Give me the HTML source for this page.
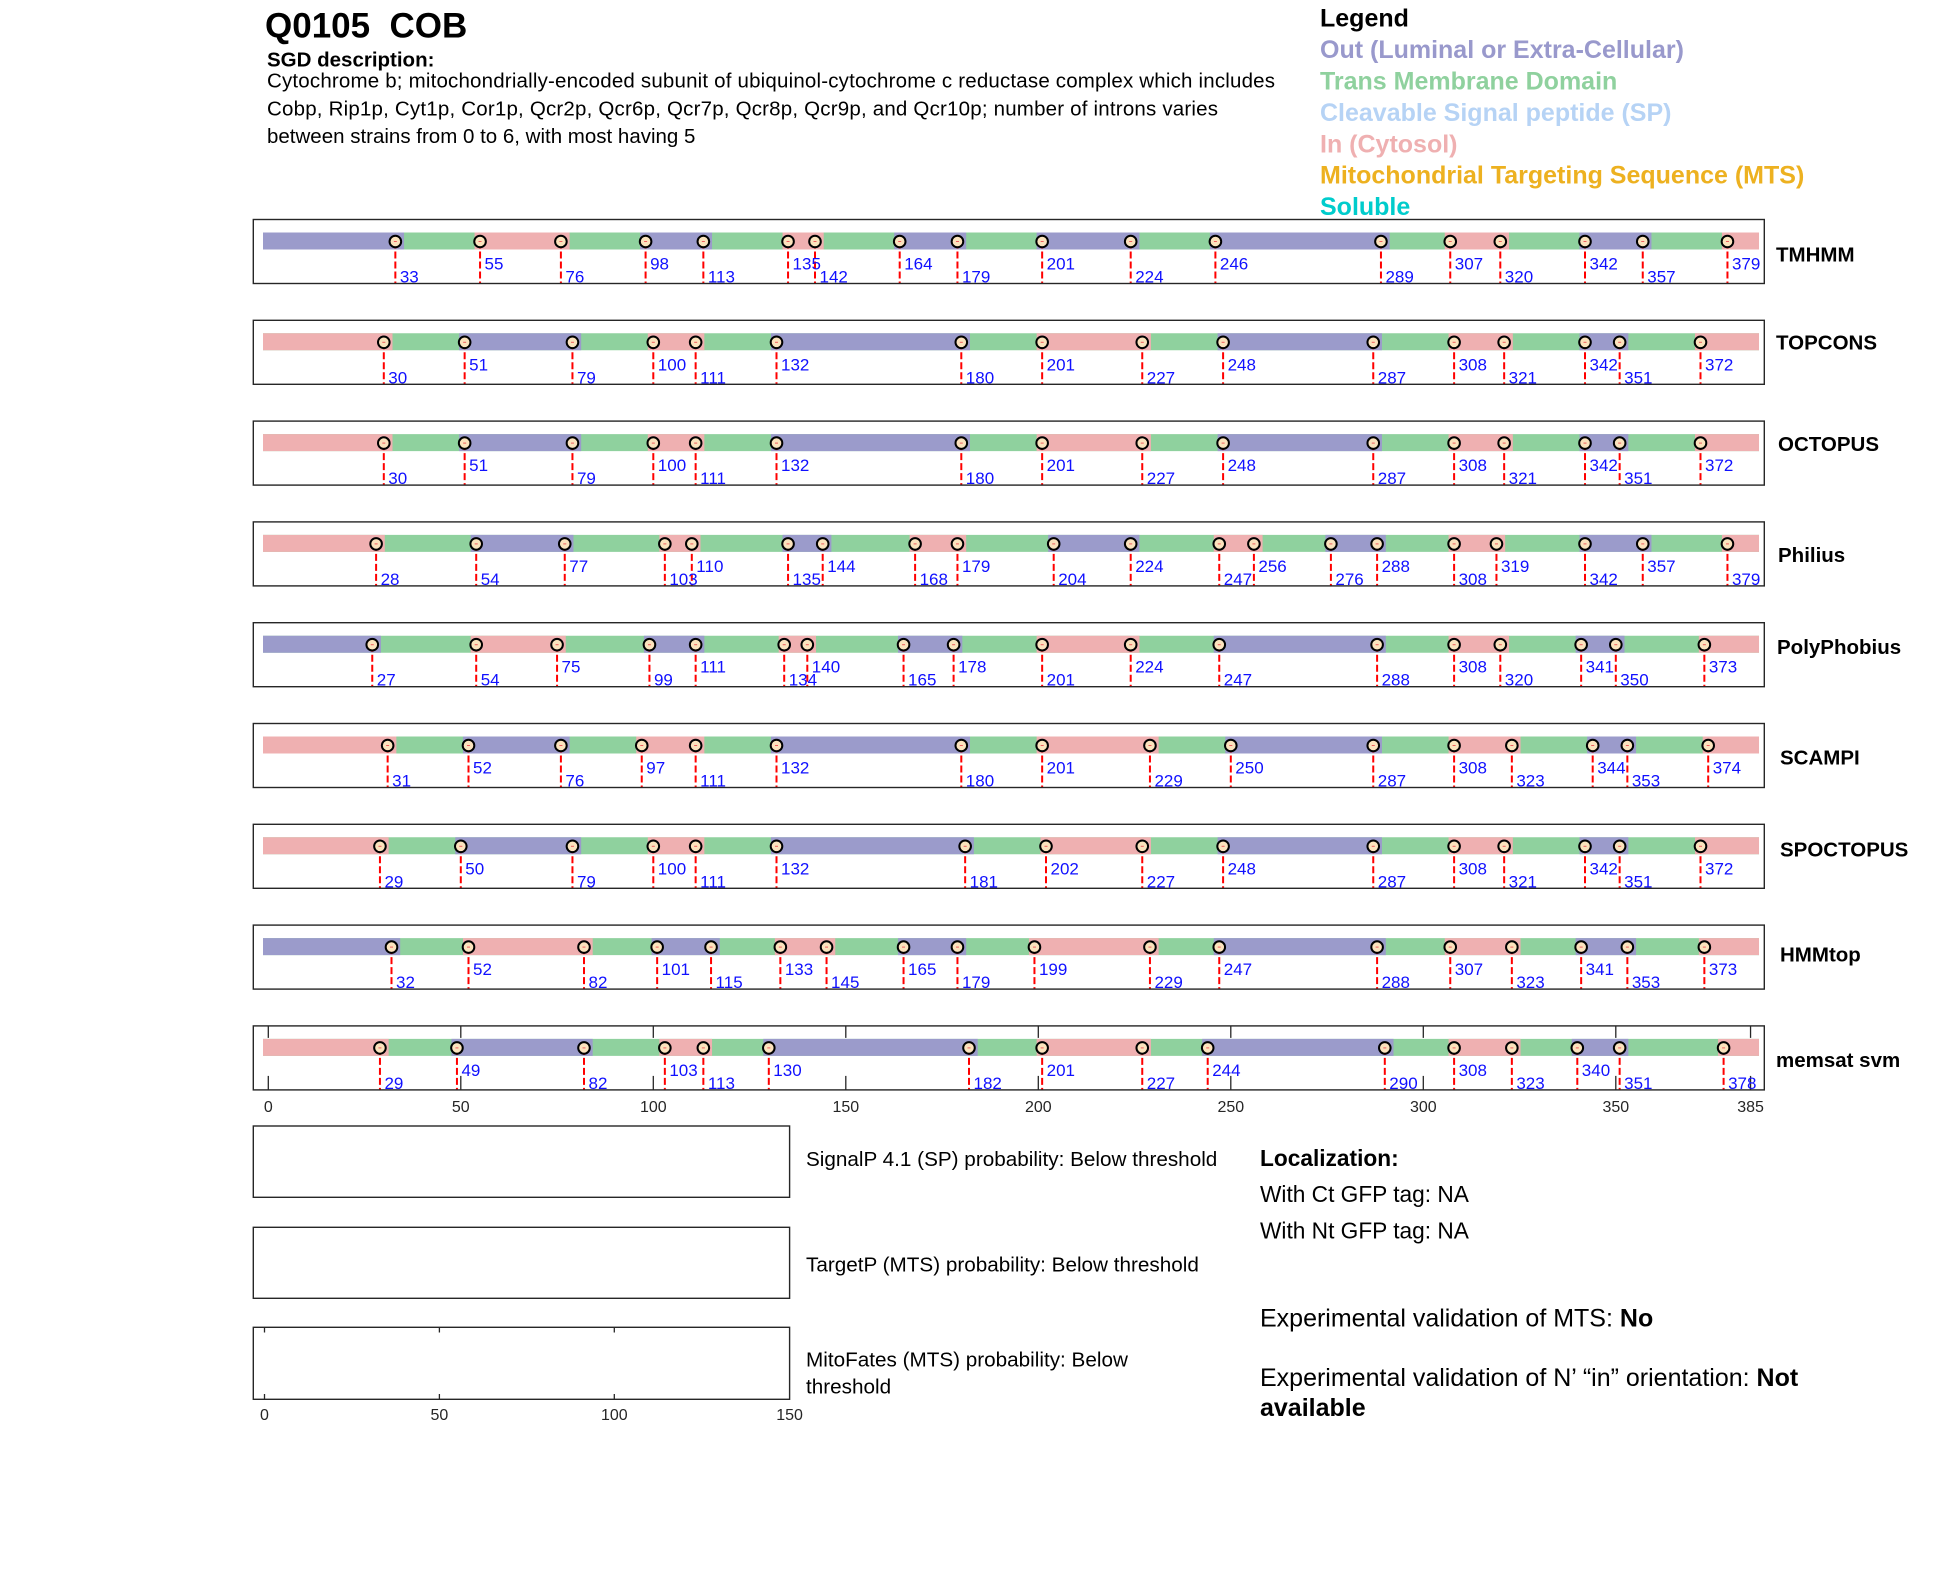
<!DOCTYPE html>
<html>
<head>
<meta charset="utf-8">
<style>
html,body{margin:0;padding:0;background:#fff;}
svg{display:block;}
text{font-family:"Liberation Sans",Arial,Helvetica,sans-serif;}
.n{font-size:17px;fill:#1010ff;}
.nm{font-size:20.5px;font-weight:bold;fill:#000;}
.tk{font-size:16px;fill:#262626;}
.pan{fill:none;stroke:#262626;stroke-width:1.4;}
.bg{stroke:#8fd19e;stroke-width:17;}
.P{stroke:#9b9bcb;stroke-width:17;}
.K{stroke:#efb0b1;stroke-width:17;}
.tick{stroke:#262626;stroke-width:1.3;}
</style>
</head>
<body>
<svg width="1950" height="1573" viewBox="0 0 1950 1573" xmlns="http://www.w3.org/2000/svg">
<defs>
<g id="mk">
<line x1="0" y1="22" x2="0" y2="64" stroke="#ff0000" stroke-width="2" stroke-dasharray="7 3"/>
<circle cx="0" cy="22" r="5.8" fill="#fbe3bd" stroke="#000" stroke-width="2"/>
<rect x="-1.5" y="21.5" width="3" height="1" fill="#f06060"/>
</g>
</defs>
<rect x="0" y="0" width="1950" height="1573" fill="#fff"/>

<!-- Header -->
<text x="265" y="37.7" style="font-size:35px;font-weight:bold;white-space:pre" xml:space="preserve">Q0105  COB</text>
<text x="267" y="66.5" style="font-size:20.5px;font-weight:bold">SGD description:</text>
<text x="267" y="87.5" style="font-size:20.5px" textLength="1008" lengthAdjust="spacing">Cytochrome b; mitochondrially-encoded subunit of ubiquinol-cytochrome c reductase complex which includes</text>
<text x="267" y="115.5" style="font-size:20.5px" textLength="951" lengthAdjust="spacing">Cobp, Rip1p, Cyt1p, Cor1p, Qcr2p, Qcr6p, Qcr7p, Qcr8p, Qcr9p, and Qcr10p; number of introns varies</text>
<text x="267" y="143" style="font-size:20.5px">between strains from 0 to 6, with most having 5</text>

<!-- Legend -->
<g style="font-size:25px;font-weight:bold">
<text x="1320" y="26.7" fill="#000">Legend</text>
<text x="1320" y="58.1" fill="#9999cc">Out (Luminal or Extra-Cellular)</text>
<text x="1320" y="89.5" fill="#8fd19e">Trans Membrane Domain</text>
<text x="1320" y="120.9" fill="#b6d3f5">Cleavable Signal peptide (SP)</text>
<text x="1320" y="152.3" fill="#efb0b1">In (Cytosol)</text>
<text x="1320" y="183.7" fill="#edb120">Mitochondrial Targeting Sequence (MTS)</text>
<text x="1320" y="215" fill="#00cccc">Soluble</text>
</g>

<!-- Track 1 TMHMM -->
<g transform="translate(0,219.5)">
<line class="bg" x1="263" y1="21.5" x2="1759" y2="21.5"/>
<line class="P" x1="263" y1="21.5" x2="404.05" y2="21.5"/>
<line class="K" x1="474.55" y1="21.5" x2="569.6" y2="21.5"/>
<line class="P" x1="640.1" y1="21.5" x2="712.05" y2="21.5"/>
<line class="K" x1="782.55" y1="21.5" x2="823.7" y2="21.5"/>
<line class="P" x1="894.2" y1="21.5" x2="966.15" y2="21.5"/>
<line class="P" x1="1036.65" y1="21.5" x2="1139.4" y2="21.5"/>
<line class="P" x1="1209.9" y1="21.5" x2="1389.65" y2="21.5"/>
<line class="K" x1="1444.75" y1="21.5" x2="1509" y2="21.5"/>
<line class="P" x1="1579.5" y1="21.5" x2="1651.45" y2="21.5"/>
<line class="K" x1="1721.95" y1="21.5" x2="1759" y2="21.5"/>
<use href="#mk" x="395.35"/><use href="#mk" x="480.05"/><use href="#mk" x="560.9"/><use href="#mk" x="645.6"/><use href="#mk" x="703.35"/><use href="#mk" x="788.05"/><use href="#mk" x="815"/><use href="#mk" x="899.7"/><use href="#mk" x="957.45"/><use href="#mk" x="1042.15"/><use href="#mk" x="1130.7"/><use href="#mk" x="1215.4"/><use href="#mk" x="1380.95"/><use href="#mk" x="1450.25"/><use href="#mk" x="1500.3"/><use href="#mk" x="1585"/><use href="#mk" x="1642.75"/><use href="#mk" x="1727.45"/>
<text class="n" x="399.85" y="63">33</text><text class="n" x="484.55" y="50">55</text><text class="n" x="565.4" y="63">76</text><text class="n" x="650.1" y="50">98</text><text class="n" x="707.85" y="63">113</text><text class="n" x="792.55" y="50">135</text><text class="n" x="819.5" y="63">142</text><text class="n" x="904.2" y="50">164</text><text class="n" x="961.95" y="63">179</text><text class="n" x="1046.65" y="50">201</text><text class="n" x="1135.2" y="63">224</text><text class="n" x="1219.9" y="50">246</text><text class="n" x="1385.45" y="63">289</text><text class="n" x="1454.75" y="50">307</text><text class="n" x="1504.8" y="63">320</text><text class="n" x="1589.5" y="50">342</text><text class="n" x="1647.25" y="63">357</text><text class="n" x="1731.95" y="50">379</text>
<rect class="pan" x="253.3" y="0" width="1511" height="64"/>
<text class="nm" x="1776" y="42.2">TMHMM</text>
</g>

<!-- Track 2 TOPCONS -->
<g transform="translate(0,320.3)">
<line class="bg" x1="263" y1="21.5" x2="1759" y2="21.5"/>
<line class="K" x1="263" y1="21.5" x2="392.5" y2="21.5"/>
<line class="P" x1="459.15" y1="21.5" x2="581.15" y2="21.5"/>
<line class="K" x1="647.8" y1="21.5" x2="704.35" y2="21.5"/>
<line class="P" x1="771" y1="21.5" x2="970" y2="21.5"/>
<line class="K" x1="1036.65" y1="21.5" x2="1150.95" y2="21.5"/>
<line class="P" x1="1217.6" y1="21.5" x2="1381.95" y2="21.5"/>
<line class="K" x1="1448.6" y1="21.5" x2="1512.85" y2="21.5"/>
<line class="P" x1="1579.5" y1="21.5" x2="1628.35" y2="21.5"/>
<line class="K" x1="1695" y1="21.5" x2="1759" y2="21.5"/>
<use href="#mk" x="383.8"/><use href="#mk" x="464.65"/><use href="#mk" x="572.45"/><use href="#mk" x="653.3"/><use href="#mk" x="695.65"/><use href="#mk" x="776.5"/><use href="#mk" x="961.3"/><use href="#mk" x="1042.15"/><use href="#mk" x="1142.25"/><use href="#mk" x="1223.1"/><use href="#mk" x="1373.25"/><use href="#mk" x="1454.1"/><use href="#mk" x="1504.15"/><use href="#mk" x="1585"/><use href="#mk" x="1619.65"/><use href="#mk" x="1700.5"/>
<text class="n" x="388.3" y="63">30</text><text class="n" x="469.15" y="50">51</text><text class="n" x="576.95" y="63">79</text><text class="n" x="657.8" y="50">100</text><text class="n" x="700.15" y="63">111</text><text class="n" x="781" y="50">132</text><text class="n" x="965.8" y="63">180</text><text class="n" x="1046.65" y="50">201</text><text class="n" x="1146.75" y="63">227</text><text class="n" x="1227.6" y="50">248</text><text class="n" x="1377.75" y="63">287</text><text class="n" x="1458.6" y="50">308</text><text class="n" x="1508.65" y="63">321</text><text class="n" x="1589.5" y="50">342</text><text class="n" x="1624.15" y="63">351</text><text class="n" x="1705" y="50">372</text>
<rect class="pan" x="253.3" y="0" width="1511" height="64"/>
<text class="nm" x="1776" y="29.2">TOPCONS</text>
</g>

<!-- Track 3 OCTOPUS -->
<g transform="translate(0,421.1)">
<line class="bg" x1="263" y1="21.5" x2="1759" y2="21.5"/>
<line class="K" x1="263" y1="21.5" x2="392.5" y2="21.5"/>
<line class="P" x1="459.15" y1="21.5" x2="581.15" y2="21.5"/>
<line class="K" x1="647.8" y1="21.5" x2="704.35" y2="21.5"/>
<line class="P" x1="771" y1="21.5" x2="970" y2="21.5"/>
<line class="K" x1="1036.65" y1="21.5" x2="1150.95" y2="21.5"/>
<line class="P" x1="1217.6" y1="21.5" x2="1381.95" y2="21.5"/>
<line class="K" x1="1448.6" y1="21.5" x2="1512.85" y2="21.5"/>
<line class="P" x1="1579.5" y1="21.5" x2="1628.35" y2="21.5"/>
<line class="K" x1="1695" y1="21.5" x2="1759" y2="21.5"/>
<use href="#mk" x="383.8"/><use href="#mk" x="464.65"/><use href="#mk" x="572.45"/><use href="#mk" x="653.3"/><use href="#mk" x="695.65"/><use href="#mk" x="776.5"/><use href="#mk" x="961.3"/><use href="#mk" x="1042.15"/><use href="#mk" x="1142.25"/><use href="#mk" x="1223.1"/><use href="#mk" x="1373.25"/><use href="#mk" x="1454.1"/><use href="#mk" x="1504.15"/><use href="#mk" x="1585"/><use href="#mk" x="1619.65"/><use href="#mk" x="1700.5"/>
<text class="n" x="388.3" y="63">30</text><text class="n" x="469.15" y="50">51</text><text class="n" x="576.95" y="63">79</text><text class="n" x="657.8" y="50">100</text><text class="n" x="700.15" y="63">111</text><text class="n" x="781" y="50">132</text><text class="n" x="965.8" y="63">180</text><text class="n" x="1046.65" y="50">201</text><text class="n" x="1146.75" y="63">227</text><text class="n" x="1227.6" y="50">248</text><text class="n" x="1377.75" y="63">287</text><text class="n" x="1458.6" y="50">308</text><text class="n" x="1508.65" y="63">321</text><text class="n" x="1589.5" y="50">342</text><text class="n" x="1624.15" y="63">351</text><text class="n" x="1705" y="50">372</text>
<rect class="pan" x="253.3" y="0" width="1511" height="64"/>
<text class="nm" x="1778" y="29.9">OCTOPUS</text>
</g>

<!-- Track 4 Philius -->
<g transform="translate(0,521.9)">
<line class="bg" x1="263" y1="21.5" x2="1759" y2="21.5"/>
<line class="K" x1="263" y1="21.5" x2="384.8" y2="21.5"/>
<line class="P" x1="470.7" y1="21.5" x2="573.45" y2="21.5"/>
<line class="K" x1="659.35" y1="21.5" x2="700.5" y2="21.5"/>
<line class="P" x1="782.55" y1="21.5" x2="831.4" y2="21.5"/>
<line class="K" x1="909.6" y1="21.5" x2="966.15" y2="21.5"/>
<line class="P" x1="1048.2" y1="21.5" x2="1139.4" y2="21.5"/>
<line class="K" x1="1213.75" y1="21.5" x2="1262.6" y2="21.5"/>
<line class="P" x1="1325.4" y1="21.5" x2="1385.8" y2="21.5"/>
<line class="K" x1="1448.6" y1="21.5" x2="1505.15" y2="21.5"/>
<line class="P" x1="1579.5" y1="21.5" x2="1651.45" y2="21.5"/>
<line class="K" x1="1721.95" y1="21.5" x2="1759" y2="21.5"/>
<use href="#mk" x="376.1"/><use href="#mk" x="476.2"/><use href="#mk" x="564.75"/><use href="#mk" x="664.85"/><use href="#mk" x="691.8"/><use href="#mk" x="788.05"/><use href="#mk" x="822.7"/><use href="#mk" x="915.1"/><use href="#mk" x="957.45"/><use href="#mk" x="1053.7"/><use href="#mk" x="1130.7"/><use href="#mk" x="1219.25"/><use href="#mk" x="1253.9"/><use href="#mk" x="1330.9"/><use href="#mk" x="1377.1"/><use href="#mk" x="1454.1"/><use href="#mk" x="1496.45"/><use href="#mk" x="1585"/><use href="#mk" x="1642.75"/><use href="#mk" x="1727.45"/>
<text class="n" x="380.6" y="63">28</text><text class="n" x="480.7" y="63">54</text><text class="n" x="569.25" y="50">77</text><text class="n" x="669.35" y="63">103</text><text class="n" x="696.3" y="50">110</text><text class="n" x="792.55" y="63">135</text><text class="n" x="827.2" y="50">144</text><text class="n" x="919.6" y="63">168</text><text class="n" x="961.95" y="50">179</text><text class="n" x="1058.2" y="63">204</text><text class="n" x="1135.2" y="50">224</text><text class="n" x="1223.75" y="63">247</text><text class="n" x="1258.4" y="50">256</text><text class="n" x="1335.4" y="63">276</text><text class="n" x="1381.6" y="50">288</text><text class="n" x="1458.6" y="63">308</text><text class="n" x="1500.95" y="50">319</text><text class="n" x="1589.5" y="63">342</text><text class="n" x="1647.25" y="50">357</text><text class="n" x="1731.95" y="63">379</text>
<rect class="pan" x="253.3" y="0" width="1511" height="64"/>
<text class="nm" x="1778" y="40.3">Philius</text>
</g>

<!-- Track 5 PolyPhobius -->
<g transform="translate(0,622.7)">
<line class="bg" x1="263" y1="21.5" x2="1759" y2="21.5"/>
<line class="P" x1="263" y1="21.5" x2="380.95" y2="21.5"/>
<line class="K" x1="470.7" y1="21.5" x2="565.75" y2="21.5"/>
<line class="P" x1="643.95" y1="21.5" x2="704.35" y2="21.5"/>
<line class="K" x1="778.7" y1="21.5" x2="816" y2="21.5"/>
<line class="P" x1="898.05" y1="21.5" x2="962.3" y2="21.5"/>
<line class="K" x1="1036.65" y1="21.5" x2="1139.4" y2="21.5"/>
<line class="P" x1="1213.75" y1="21.5" x2="1385.8" y2="21.5"/>
<line class="K" x1="1448.6" y1="21.5" x2="1509" y2="21.5"/>
<line class="P" x1="1575.65" y1="21.5" x2="1624.5" y2="21.5"/>
<line class="K" x1="1698.85" y1="21.5" x2="1759" y2="21.5"/>
<use href="#mk" x="372.25"/><use href="#mk" x="476.2"/><use href="#mk" x="557.05"/><use href="#mk" x="649.45"/><use href="#mk" x="695.65"/><use href="#mk" x="784.2"/><use href="#mk" x="807.3"/><use href="#mk" x="903.55"/><use href="#mk" x="953.6"/><use href="#mk" x="1042.15"/><use href="#mk" x="1130.7"/><use href="#mk" x="1219.25"/><use href="#mk" x="1377.1"/><use href="#mk" x="1454.1"/><use href="#mk" x="1500.3"/><use href="#mk" x="1581.15"/><use href="#mk" x="1615.8"/><use href="#mk" x="1704.35"/>
<text class="n" x="376.75" y="63">27</text><text class="n" x="480.7" y="63">54</text><text class="n" x="561.55" y="50">75</text><text class="n" x="653.95" y="63">99</text><text class="n" x="700.15" y="50">111</text><text class="n" x="788.7" y="63">134</text><text class="n" x="811.8" y="50">140</text><text class="n" x="908.05" y="63">165</text><text class="n" x="958.1" y="50">178</text><text class="n" x="1046.65" y="63">201</text><text class="n" x="1135.2" y="50">224</text><text class="n" x="1223.75" y="63">247</text><text class="n" x="1381.6" y="63">288</text><text class="n" x="1458.6" y="50">308</text><text class="n" x="1504.8" y="63">320</text><text class="n" x="1585.65" y="50">341</text><text class="n" x="1620.3" y="63">350</text><text class="n" x="1708.85" y="50">373</text>
<rect class="pan" x="253.3" y="0" width="1511" height="64"/>
<text class="nm" x="1777" y="31.3">PolyPhobius</text>
</g>

<!-- Track 6 SCAMPI -->
<g transform="translate(0,723.5)">
<line class="bg" x1="263" y1="21.5" x2="1759" y2="21.5"/>
<line class="K" x1="263" y1="21.5" x2="396.35" y2="21.5"/>
<line class="P" x1="463" y1="21.5" x2="569.6" y2="21.5"/>
<line class="K" x1="636.25" y1="21.5" x2="704.35" y2="21.5"/>
<line class="P" x1="771" y1="21.5" x2="970" y2="21.5"/>
<line class="K" x1="1036.65" y1="21.5" x2="1158.65" y2="21.5"/>
<line class="P" x1="1225.3" y1="21.5" x2="1381.95" y2="21.5"/>
<line class="K" x1="1448.6" y1="21.5" x2="1520.55" y2="21.5"/>
<line class="P" x1="1587.2" y1="21.5" x2="1636.05" y2="21.5"/>
<line class="K" x1="1702.7" y1="21.5" x2="1759" y2="21.5"/>
<use href="#mk" x="387.65"/><use href="#mk" x="468.5"/><use href="#mk" x="560.9"/><use href="#mk" x="641.75"/><use href="#mk" x="695.65"/><use href="#mk" x="776.5"/><use href="#mk" x="961.3"/><use href="#mk" x="1042.15"/><use href="#mk" x="1149.95"/><use href="#mk" x="1230.8"/><use href="#mk" x="1373.25"/><use href="#mk" x="1454.1"/><use href="#mk" x="1511.85"/><use href="#mk" x="1592.7"/><use href="#mk" x="1627.35"/><use href="#mk" x="1708.2"/>
<text class="n" x="392.15" y="63">31</text><text class="n" x="473" y="50">52</text><text class="n" x="565.4" y="63">76</text><text class="n" x="646.25" y="50">97</text><text class="n" x="700.15" y="63">111</text><text class="n" x="781" y="50">132</text><text class="n" x="965.8" y="63">180</text><text class="n" x="1046.65" y="50">201</text><text class="n" x="1154.45" y="63">229</text><text class="n" x="1235.3" y="50">250</text><text class="n" x="1377.75" y="63">287</text><text class="n" x="1458.6" y="50">308</text><text class="n" x="1516.35" y="63">323</text><text class="n" x="1597.2" y="50">344</text><text class="n" x="1631.85" y="63">353</text><text class="n" x="1712.7" y="50">374</text>
<rect class="pan" x="253.3" y="0" width="1511" height="64"/>
<text class="nm" x="1780" y="40.8">SCAMPI</text>
</g>

<!-- Track 7 SPOCTOPUS -->
<g transform="translate(0,824.3)">
<line class="bg" x1="263" y1="21.5" x2="1759" y2="21.5"/>
<line class="K" x1="263" y1="21.5" x2="388.65" y2="21.5"/>
<line class="P" x1="455.3" y1="21.5" x2="581.15" y2="21.5"/>
<line class="K" x1="647.8" y1="21.5" x2="704.35" y2="21.5"/>
<line class="P" x1="771" y1="21.5" x2="973.85" y2="21.5"/>
<line class="K" x1="1040.5" y1="21.5" x2="1150.95" y2="21.5"/>
<line class="P" x1="1217.6" y1="21.5" x2="1381.95" y2="21.5"/>
<line class="K" x1="1448.6" y1="21.5" x2="1512.85" y2="21.5"/>
<line class="P" x1="1579.5" y1="21.5" x2="1628.35" y2="21.5"/>
<line class="K" x1="1695" y1="21.5" x2="1759" y2="21.5"/>
<use href="#mk" x="379.95"/><use href="#mk" x="460.8"/><use href="#mk" x="572.45"/><use href="#mk" x="653.3"/><use href="#mk" x="695.65"/><use href="#mk" x="776.5"/><use href="#mk" x="965.15"/><use href="#mk" x="1046"/><use href="#mk" x="1142.25"/><use href="#mk" x="1223.1"/><use href="#mk" x="1373.25"/><use href="#mk" x="1454.1"/><use href="#mk" x="1504.15"/><use href="#mk" x="1585"/><use href="#mk" x="1619.65"/><use href="#mk" x="1700.5"/>
<text class="n" x="384.45" y="63">29</text><text class="n" x="465.3" y="50">50</text><text class="n" x="576.95" y="63">79</text><text class="n" x="657.8" y="50">100</text><text class="n" x="700.15" y="63">111</text><text class="n" x="781" y="50">132</text><text class="n" x="969.65" y="63">181</text><text class="n" x="1050.5" y="50">202</text><text class="n" x="1146.75" y="63">227</text><text class="n" x="1227.6" y="50">248</text><text class="n" x="1377.75" y="63">287</text><text class="n" x="1458.6" y="50">308</text><text class="n" x="1508.65" y="63">321</text><text class="n" x="1589.5" y="50">342</text><text class="n" x="1624.15" y="63">351</text><text class="n" x="1705" y="50">372</text>
<rect class="pan" x="253.3" y="0" width="1511" height="64"/>
<text class="nm" x="1780" y="32">SPOCTOPUS</text>
</g>

<!-- Track 8 HMMtop -->
<g transform="translate(0,925.1)">
<line class="bg" x1="263" y1="21.5" x2="1759" y2="21.5"/>
<line class="P" x1="263" y1="21.5" x2="400.2" y2="21.5"/>
<line class="K" x1="463" y1="21.5" x2="592.7" y2="21.5"/>
<line class="P" x1="651.65" y1="21.5" x2="719.75" y2="21.5"/>
<line class="K" x1="774.85" y1="21.5" x2="835.25" y2="21.5"/>
<line class="P" x1="898.05" y1="21.5" x2="966.15" y2="21.5"/>
<line class="K" x1="1028.95" y1="21.5" x2="1158.65" y2="21.5"/>
<line class="P" x1="1213.75" y1="21.5" x2="1385.8" y2="21.5"/>
<line class="K" x1="1444.75" y1="21.5" x2="1520.55" y2="21.5"/>
<line class="P" x1="1575.65" y1="21.5" x2="1636.05" y2="21.5"/>
<line class="K" x1="1698.85" y1="21.5" x2="1759" y2="21.5"/>
<use href="#mk" x="391.5"/><use href="#mk" x="468.5"/><use href="#mk" x="584"/><use href="#mk" x="657.15"/><use href="#mk" x="711.05"/><use href="#mk" x="780.35"/><use href="#mk" x="826.55"/><use href="#mk" x="903.55"/><use href="#mk" x="957.45"/><use href="#mk" x="1034.45"/><use href="#mk" x="1149.95"/><use href="#mk" x="1219.25"/><use href="#mk" x="1377.1"/><use href="#mk" x="1450.25"/><use href="#mk" x="1511.85"/><use href="#mk" x="1581.15"/><use href="#mk" x="1627.35"/><use href="#mk" x="1704.35"/>
<text class="n" x="396" y="63">32</text><text class="n" x="473" y="50">52</text><text class="n" x="588.5" y="63">82</text><text class="n" x="661.65" y="50">101</text><text class="n" x="715.55" y="63">115</text><text class="n" x="784.85" y="50">133</text><text class="n" x="831.05" y="63">145</text><text class="n" x="908.05" y="50">165</text><text class="n" x="961.95" y="63">179</text><text class="n" x="1038.95" y="50">199</text><text class="n" x="1154.45" y="63">229</text><text class="n" x="1223.75" y="50">247</text><text class="n" x="1381.6" y="63">288</text><text class="n" x="1454.75" y="50">307</text><text class="n" x="1516.35" y="63">323</text><text class="n" x="1585.65" y="50">341</text><text class="n" x="1631.85" y="63">353</text><text class="n" x="1708.85" y="50">373</text>
<rect class="pan" x="253.3" y="0" width="1511" height="64"/>
<text class="nm" x="1780" y="36.4">HMMtop</text>
</g>

<!-- Track 9 memsat svm -->
<g transform="translate(0,1025.9)">
<g class="tick">
<line x1="268.3" y1="0" x2="268.3" y2="12"/><line x1="460.8" y1="0" x2="460.8" y2="12"/><line x1="653.3" y1="0" x2="653.3" y2="12"/><line x1="845.8" y1="0" x2="845.8" y2="12"/><line x1="1038.3" y1="0" x2="1038.3" y2="12"/><line x1="1230.8" y1="0" x2="1230.8" y2="12"/><line x1="1423.3" y1="0" x2="1423.3" y2="12"/><line x1="1615.8" y1="0" x2="1615.8" y2="12"/><line x1="1750.55" y1="0" x2="1750.55" y2="12"/>
<line x1="268.3" y1="50" x2="268.3" y2="64"/><line x1="460.8" y1="50" x2="460.8" y2="64"/><line x1="653.3" y1="50" x2="653.3" y2="64"/><line x1="845.8" y1="50" x2="845.8" y2="64"/><line x1="1038.3" y1="50" x2="1038.3" y2="64"/><line x1="1230.8" y1="50" x2="1230.8" y2="64"/><line x1="1423.3" y1="50" x2="1423.3" y2="64"/><line x1="1615.8" y1="50" x2="1615.8" y2="64"/><line x1="1750.55" y1="50" x2="1750.55" y2="64"/>
</g>
<line class="bg" x1="263" y1="21.5" x2="1759" y2="21.5"/>
<line class="K" x1="263" y1="21.5" x2="388.65" y2="21.5"/>
<line class="P" x1="451.45" y1="21.5" x2="592.7" y2="21.5"/>
<line class="K" x1="659.35" y1="21.5" x2="712.05" y2="21.5"/>
<line class="P" x1="763.3" y1="21.5" x2="977.7" y2="21.5"/>
<line class="K" x1="1036.65" y1="21.5" x2="1150.95" y2="21.5"/>
<line class="P" x1="1202.2" y1="21.5" x2="1393.5" y2="21.5"/>
<line class="K" x1="1448.6" y1="21.5" x2="1520.55" y2="21.5"/>
<line class="P" x1="1571.8" y1="21.5" x2="1628.35" y2="21.5"/>
<line class="K" x1="1718.1" y1="21.5" x2="1759" y2="21.5"/>
<use href="#mk" x="379.95"/><use href="#mk" x="456.95"/><use href="#mk" x="584"/><use href="#mk" x="664.85"/><use href="#mk" x="703.35"/><use href="#mk" x="768.8"/><use href="#mk" x="969"/><use href="#mk" x="1042.15"/><use href="#mk" x="1142.25"/><use href="#mk" x="1207.7"/><use href="#mk" x="1384.8"/><use href="#mk" x="1454.1"/><use href="#mk" x="1511.85"/><use href="#mk" x="1577.3"/><use href="#mk" x="1619.65"/><use href="#mk" x="1723.6"/>
<text class="n" x="384.45" y="63">29</text><text class="n" x="461.45" y="50">49</text><text class="n" x="588.5" y="63">82</text><text class="n" x="669.35" y="50">103</text><text class="n" x="707.85" y="63">113</text><text class="n" x="773.3" y="50">130</text><text class="n" x="973.5" y="63">182</text><text class="n" x="1046.65" y="50">201</text><text class="n" x="1146.75" y="63">227</text><text class="n" x="1212.2" y="50">244</text><text class="n" x="1389.3" y="63">290</text><text class="n" x="1458.6" y="50">308</text><text class="n" x="1516.35" y="63">323</text><text class="n" x="1581.8" y="50">340</text><text class="n" x="1624.15" y="63">351</text><text class="n" x="1728.1" y="63">378</text>
<rect class="pan" x="253.3" y="0" width="1511" height="64"/>
<g class="tk" text-anchor="middle">
<text x="268.3" y="86">0</text><text x="460.8" y="86">50</text><text x="653.3" y="86">100</text><text x="845.8" y="86">150</text><text x="1038.3" y="86">200</text><text x="1230.8" y="86">250</text><text x="1423.3" y="86">300</text><text x="1615.8" y="86">350</text><text x="1750.55" y="86">385</text>
</g>
<text class="nm" x="1776" y="41">memsat svm</text>
</g>

<!-- Bottom probability boxes -->
<rect class="pan" x="253.3" y="1126" width="536.3" height="71.3"/>
<rect class="pan" x="253.3" y="1227.3" width="536.3" height="71"/>
<g class="tick">
<line x1="264.5" y1="1327.3" x2="264.5" y2="1332.5"/><line x1="439.4" y1="1327.3" x2="439.4" y2="1332.5"/><line x1="614.3" y1="1327.3" x2="614.3" y2="1332.5"/>
<line x1="264.5" y1="1394" x2="264.5" y2="1399.3"/><line x1="439.4" y1="1394" x2="439.4" y2="1399.3"/><line x1="614.3" y1="1394" x2="614.3" y2="1399.3"/>
</g>
<rect class="pan" x="253.3" y="1327.3" width="536.3" height="72"/>
<g class="tk" text-anchor="middle">
<text x="264.5" y="1420">0</text><text x="439.4" y="1420">50</text><text x="614.3" y="1420">100</text><text x="789.6" y="1420">150</text>
</g>

<g style="font-size:20.7px" fill="#000">
<text x="806" y="1166">SignalP 4.1 (SP) probability: Below threshold</text>
<text x="806" y="1271.5">TargetP (MTS) probability: Below threshold</text>
<text x="806" y="1366.7">MitoFates (MTS) probability: Below</text>
<text x="806" y="1393.5">threshold</text>
</g>

<g fill="#000">
<text x="1260" y="1166" style="font-size:22.7px;font-weight:bold">Localization:</text>
<text x="1260" y="1202" style="font-size:22.7px">With Ct GFP tag: NA</text>
<text x="1260" y="1238.5" style="font-size:22.7px">With Nt GFP tag: NA</text>
<text x="1260" y="1326.7" style="font-size:25px">Experimental validation of MTS: <tspan style="font-weight:bold">No</tspan></text>
<text x="1260" y="1386" style="font-size:25px">Experimental validation of N’ “in” orientation: <tspan style="font-weight:bold">Not</tspan></text>
<text x="1260" y="1416" style="font-size:25px;font-weight:bold">available</text>
</g>
</svg>
</body>
</html>
